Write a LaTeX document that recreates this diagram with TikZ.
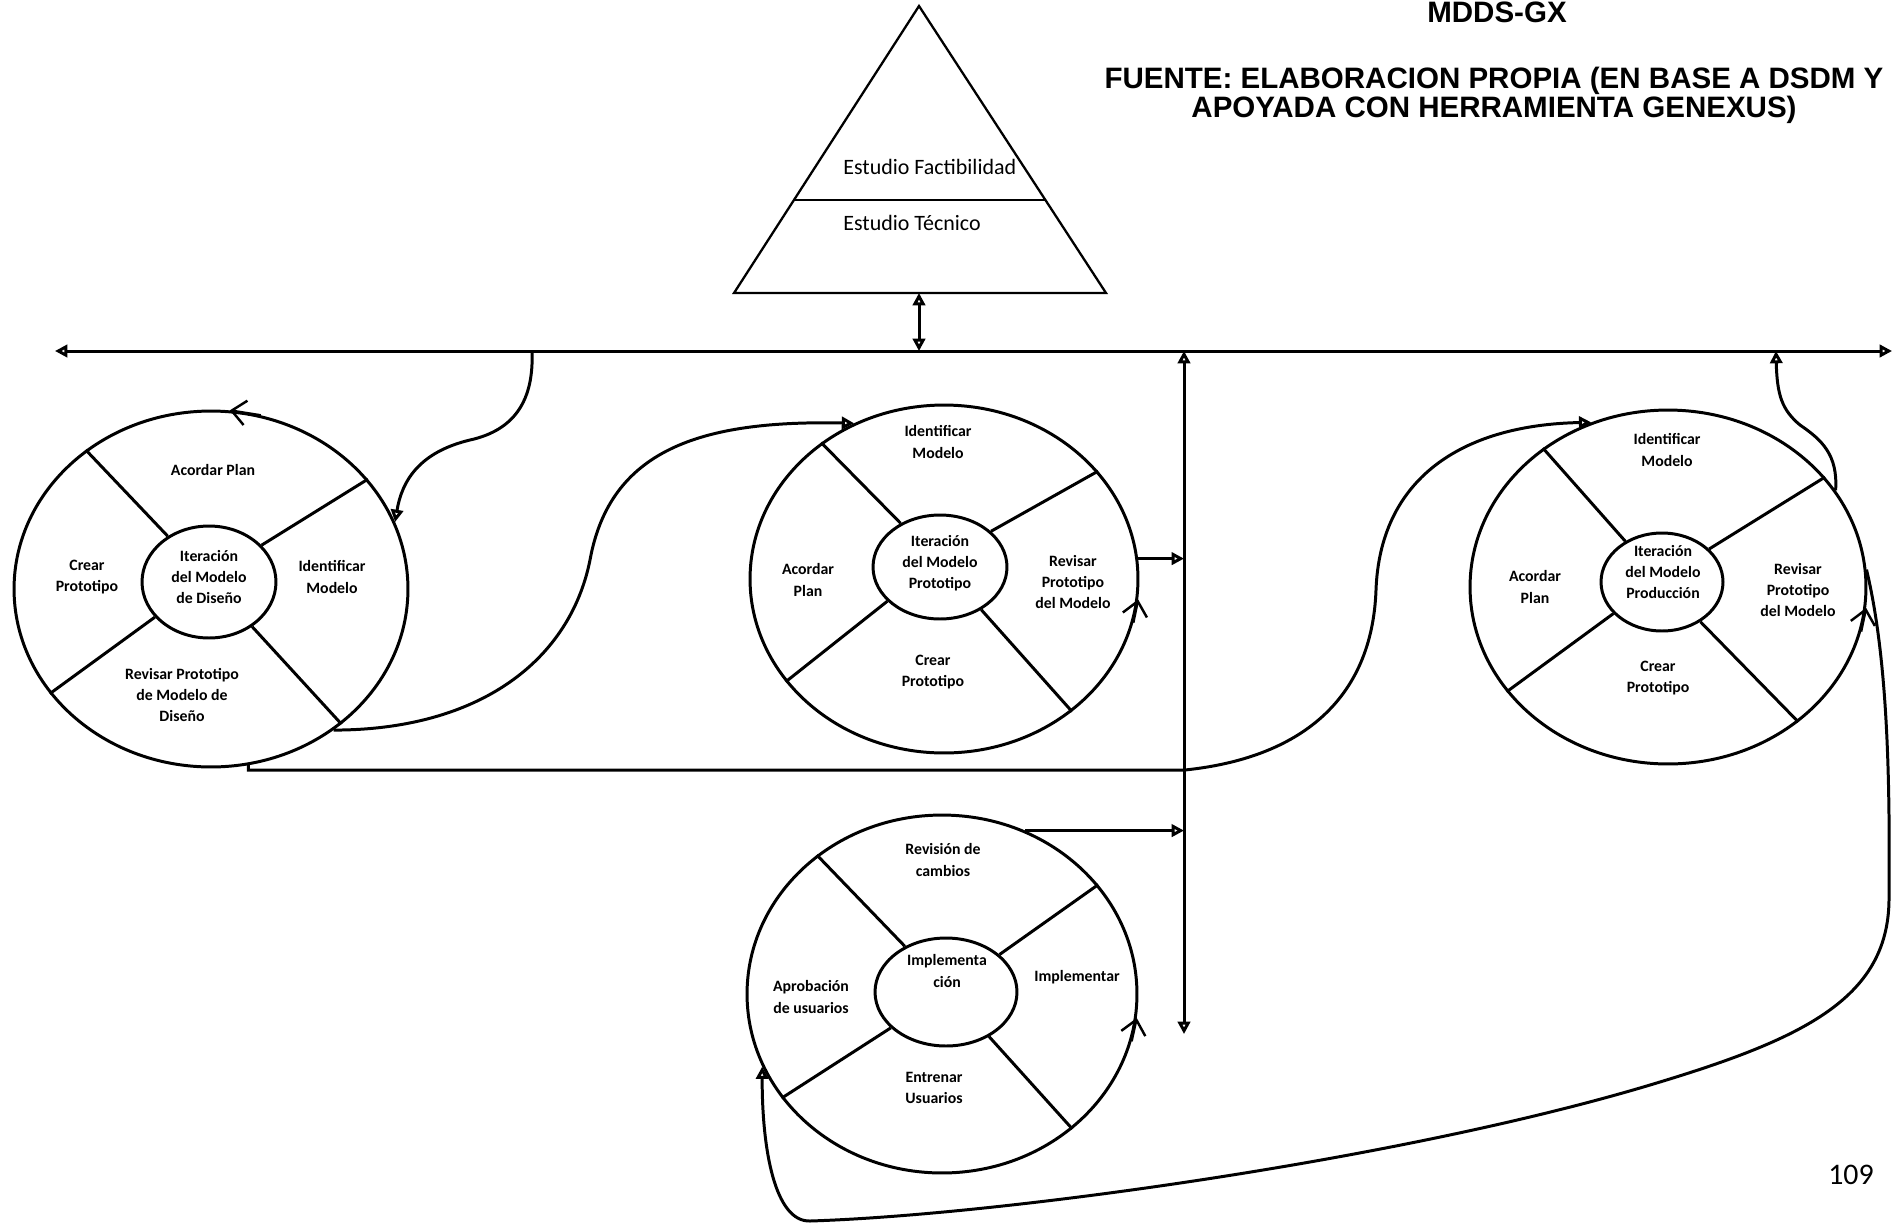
\documentclass[tikz,border=0pt]{standalone}
\usepackage{fontspec}
\setmainfont{Carlito}
\newfontfamily\headfont{Liberation Sans}
\usetikzlibrary{arrows.meta,positioning,shapes.geometric,calc}

\tikzset{
  cycleout/.style={ellipse, draw, line width=1.7pt,
    minimum width=7.84cm, minimum height=7.08cm, inner sep=0pt},
  cyclein/.style={ellipse, draw, line width=1.7pt,
    minimum width=2.68cm, minimum height=2.14cm, inner sep=0pt},
  spoke/.style={line width=1.7pt},
  celltext/.style={font=\fontsize{9}{12}\selectfont\bfseries,
    align=center, inner sep=0pt},
  pyrtext/.style={font=\fontsize{12.5}{14}\selectfont, anchor=west, inner sep=0pt},
  flowline/.style={line width=1.7pt},
  flowarrow/.style={-{Triangle[open,length=7pt,width=7pt]}, line width=1.7pt},
  twoarrow/.style={{Triangle[open,length=7pt,width=7pt]}-{Triangle[open,length=7pt,width=7pt]},
    line width=1.7pt},
  turnmark/.style={-{Straight Barb[length=8pt,width=14pt]}, line width=1.4pt},
  headtext/.style={font=\headfont\bfseries\fontsize{16.8}{16.5}\selectfont,
    align=center, inner sep=0pt},
}

\begin{document}
\begin{tikzpicture}[x=0.02cm, y=-0.02cm]

\fill[white] (0,0) rectangle (1896,1224);
\useasboundingbox (0,0) rectangle (1896,1224);

% titulo
\node[headtext] (mdds) at (1497,12) {MDDS-GX};
\node[headtext] (fuente) at (1494,95) {FUENTE: ELABORACION PROPIA (EN BASE A DSDM Y\\
  APOYADA CON HERRAMIENTA GENEXUS)};

% piramide de estudios
\coordinate (apex) at (919,6);
\coordinate (baseL) at (734,293);
\coordinate (baseR) at (1106,293);
\draw[line width=1.3pt] (apex) -- (baseR) -- (baseL) -- cycle;
\draw[line width=1.3pt] ($(baseL)!0.325!(apex)$) -- ($(baseR)!0.325!(apex)$);
\node[pyrtext] (factib) at (843,167) {Estudio Factibilidad};
\node[pyrtext] (tecnico) at (843,223) {Estudio Técnico};

% ejes
\coordinate (hub) at (919,293);
\coordinate (hubL) at (919,351);
\coordinate (busW) at (55,351);
\coordinate (busE) at (1892,351);
\coordinate (vbusN) at (1184,351);
\coordinate (vbusS) at (1184,1034);
\draw[twoarrow] (hub) -- (hubL);
\draw[twoarrow] (busW) -- (busE);
\draw[twoarrow] (vbusN) -- (vbusS);

% ciclos
\node[cycleout, minimum width=7.88cm, minimum height=7.12cm] (cyc1) at (211,589) {};
\node[cyclein, minimum height=2.24cm] (core1) at (209,582) {};
\node[cycleout, minimum width=7.76cm, minimum height=6.96cm] (cyc2) at (944,579) {};
\node[cyclein, minimum height=2.08cm] (core2) at (940,567) {};
\node[cycleout, minimum width=7.92cm] (cyc3) at (1668,587) {};
\node[cyclein, minimum width=2.44cm, minimum height=1.96cm] (core3) at (1662,582) {};
\node[cycleout, minimum width=7.8cm, minimum height=7.16cm] (cyc4) at (942,994) {};
\node[cyclein, minimum width=2.84cm, minimum height=2.16cm] (core4) at (946,992) {};

\foreach \n in {1,...,4}
  \foreach \a in {132,35,213,314}
    \draw[spoke] (core\n.\a) -- (cyc\n.\a);

% Iteracion del Modelo de Diseno
\node[celltext] (c1plan) at (213,470) {Acordar Plan};
\node[celltext] (c1crear) at (87,577) {Crear\\Prototipo};
\node[celltext] (c1ident) at (332,577) {Identificar\\Modelo};
\node[celltext] (c1iter) at (209,577) {Iteración\\del Modelo\\de Diseño};
\node[celltext] (c1rev) at (182,695) {Revisar Prototipo\\de Modelo de\\Diseño};

% Iteracion del Modelo Prototipo
\node[celltext] (c2ident) at (938,442) {Identificar\\Modelo};
\node[celltext] (c2plan) at (808,580) {Acordar\\Plan};
\node[celltext] (c2iter) at (940,563) {Iteración\\del Modelo\\Prototipo};
\node[celltext] (c2rev) at (1073,582) {Revisar\\Prototipo\\del Modelo};
\node[celltext] (c2crear) at (933,672) {Crear\\Prototipo};

% Iteracion del Modelo Produccion
\node[celltext] (c3ident) at (1667,450) {Identificar\\Modelo};
\node[celltext] (c3plan) at (1535,587) {Acordar\\Plan};
\node[celltext] (c3iter) at (1663,572) {Iteración\\del Modelo\\Producción};
\node[celltext] (c3rev) at (1798,590) {Revisar\\Prototipo\\del Modelo};
\node[celltext] (c3crear) at (1658,678) {Crear\\Prototipo};

% Implementacion
\node[celltext] (c4rev) at (943,860) {Revisión de\\cambios};
\node[celltext] (c4iter) at (947,971) {Implementa\\ción};
\node[celltext] (c4impl) at (1077,977) {Implementar};
\node[celltext] (c4apro) at (811,997) {Aprobación\\de usuarios};
\node[celltext] (c4entr) at (934,1088) {Entrenar\\Usuarios};

% sentido de cada ciclo
\draw[turnmark] (cyc1.74) -- (cyc1.84);
\draw[turnmark] (cyc2.-13) -- (cyc2.-6);
\draw[turnmark] (cyc3.-13) -- (cyc3.-6);
\draw[turnmark] (cyc4.-14) -- (cyc4.-7);

% conexiones
\coordinate (drop1) at (532,351);
\coordinate (turn3) at (1185,770);
\coordinate (rise3) at (1776,351);
\draw[flowarrow] (drop1) .. controls (534,400) and (515,430) .. (470,440)
  .. controls (420,452) and (402,480) .. (cyc1.20);
\draw[flowarrow] (cyc1.-49) .. controls (480,730) and (570,660) .. (590,560)
  .. controls (610,450) and (700,420) .. (cyc2.120);
\draw[flowarrow] (cyc1.-78) |- (turn3) .. controls (1300,758) and (1372,700) .. (1376,590)
  .. controls (1380,480) and (1460,425) .. (cyc3.115);
\draw[flowarrow] (cyc3.30) .. controls (1838,455) and (1822,440) .. (1800,425)
  .. controls (1782,410) and (1777,395) .. (rise3);
\draw[flowarrow] (cyc2.6) -- (cyc2.6 -| vbusN);
\draw[flowarrow] (cyc4.63) -- (cyc4.63 -| vbusN);
\draw[flowarrow] (cyc3.5) .. controls (1888,660) and (1890,780) .. (1889,900)
  .. controls (1888,1000) and (1800,1040) .. (1650,1085)
  .. controls (1400,1160) and (1000,1215) .. (810,1221)
  .. controls (775,1222) and (762,1150) .. (cyc4.202);

% pagina
\node[font=\fontsize{17}{17}\selectfont, inner sep=0pt] (pagina) at (1851,1175) {109};

\end{tikzpicture}
\end{document}
